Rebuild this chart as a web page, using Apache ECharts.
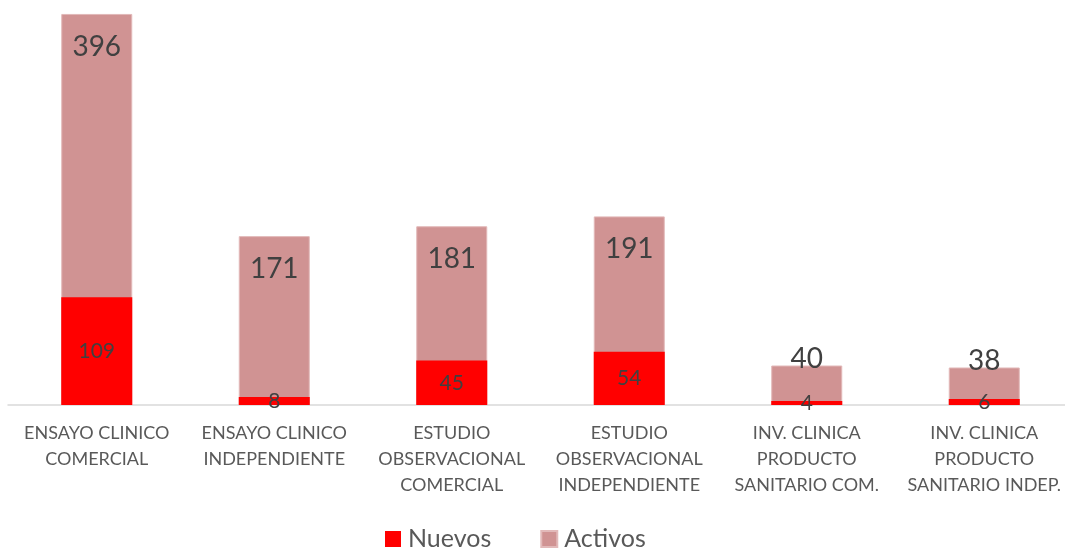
<!DOCTYPE html>
<html>
<head>
<meta charset="utf-8">
<script src="https://cdn.jsdelivr.net/npm/echarts@6/dist/echarts.min.js"></script>
<style>
  html, body { margin: 0; padding: 0; background: #fff; }
  #chart { width: 1065px; height: 549px; }
</style>
</head>
<body>
<div id="chart"></div>
<script>
// categories and values
var categorias = [
  'ENSAYO CLINICO\nCOMERCIAL',
  'ENSAYO CLINICO\nINDEPENDIENTE',
  'ESTUDIO\nOBSERVACIONAL\nCOMERCIAL',
  'ESTUDIO\nOBSERVACIONAL\nINDEPENDIENTE',
  'INV. CLINICA\nPRODUCTO\nSANITARIO COM.',
  'INV. CLINICA\nPRODUCTO\nSANITARIO INDEP.'
];
var nuevos = [109, 8, 45, 54, 4, 6];
var activos = [396, 171, 181, 191, 40, 38];

var FONT = 'Lato, "Open Sans", sans-serif';

// big bars get the value inside the top, short bars just above it
var activosData = activos.map(function (v) {
  if (v < 100) {
    return { value: v, label: { position: 'top', distance: -7 } };
  }
  return v;
});

var chart = echarts.init(document.getElementById('chart'));

var option = {
  animation: false,
  textStyle: { fontFamily: FONT },
  grid: { left: 8, width: 1065, top: 10, bottom: 144, containLabel: false, outerBoundsMode: 'none' },
  legend: {
    data: ['Nuevos', 'Activos'],
    left: 385,
    top: 526,
    padding: 0,
    icon: 'rect',
    itemWidth: 16,
    itemHeight: 16,
    itemGap: 49,
    textStyle: { fontFamily: FONT, fontSize: 25, color: '#595959', lineHeight: 26, padding: [0, 0, 0, 2] }
  },
  xAxis: {
    type: 'category',
    data: categorias,
    axisLine: { lineStyle: { color: '#D9D9D9', width: 1.5 } },
    axisTick: { show: false },
    axisLabel: {
      interval: 0,
      margin: 15,
      fontFamily: FONT,
      fontSize: 18,
      lineHeight: 26,
      color: '#595959'
    }
  },
  yAxis: {
    type: 'value',
    min: 0,
    max: 400,
    show: false,
    splitLine: { show: false }
  },
  series: [
    {
      name: 'Nuevos',
      type: 'bar',
      data: nuevos,
      barWidth: 71,
      barGap: '-100%',
      z: 3,
      itemStyle: { color: '#FF0000' },
      label: {
        show: true,
        position: 'inside',
        fontFamily: FONT,
        fontSize: 21,
        color: '#404040'
      }
    },
    {
      name: 'Activos',
      type: 'bar',
      data: activosData,
      barWidth: 71,
      barGap: '-100%',
      z: 2,
      itemStyle: { color: '#D09393', borderColor: '#E2B9B9', borderWidth: 1 },
      label: {
        show: true,
        position: 'insideTop',
        distance: 19,
        fontFamily: FONT,
        fontSize: 28,
        lineHeight: 28,
        color: '#404040'
      }
    }
  ]
};

chart.setOption(option);
</script>
</body>
</html>
